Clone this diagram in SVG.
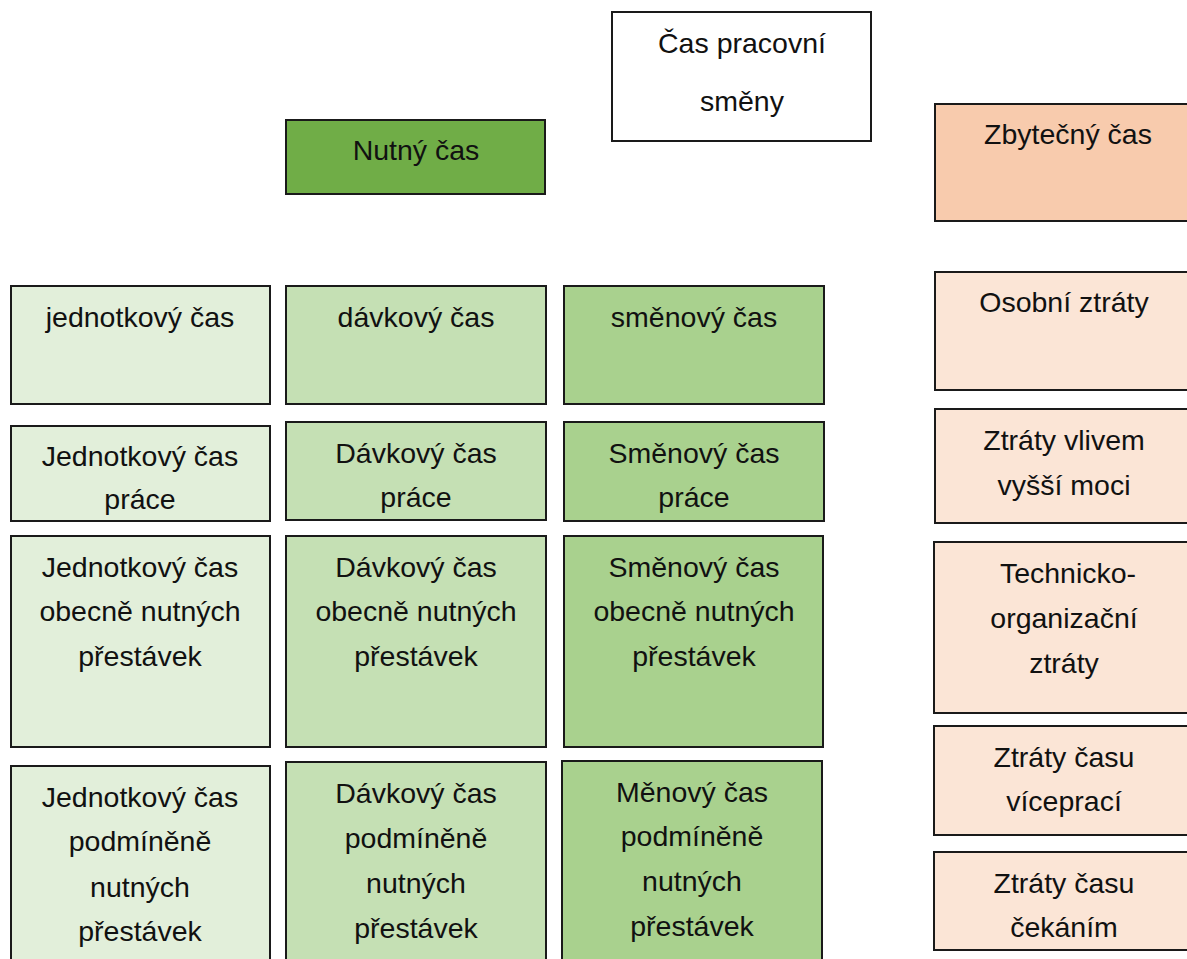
<svg xmlns="http://www.w3.org/2000/svg" width="1187" height="959" viewBox="0 0 1187 959">
<style>
rect{stroke:#1a1a1a;stroke-width:2}
text{font-family:"Liberation Sans",Arial,sans-serif;font-size:28.5px;fill:#111;text-anchor:middle}
.w{fill:#fff}.g0{fill:#70AD47}.g1{fill:#E2EFDA}.g2{fill:#C5E0B4}.g3{fill:#A9D18E}.o0{fill:#F8CBAD}.o1{fill:#FBE5D6}
</style>
<rect width="1187" height="959" fill="#fff" style="stroke:none"/>
<g id="connectors"></g>
<g id="cas-smeny"><rect class="w" x="612" y="12" width="259" height="129"/><text x="742" y="53">Čas pracovní</text><text x="742" y="111">směny</text></g>
<g id="nutny"><rect class="g0" x="286" y="120" width="259" height="74"/><text x="416" y="160">Nutný čas</text></g>
<g id="zbytecny"><rect class="o0" x="935" y="104" width="260" height="117"/><text x="1068" y="144">Zbytečný čas</text></g>

<g id="j1"><rect class="g1" x="11" y="286" width="259" height="118"/><text x="140" y="327">jednotkový čas</text></g>
<g id="d1"><rect class="g2" x="286" y="286" width="260" height="118"/><text x="416" y="327">dávkový čas</text></g>
<g id="s1"><rect class="g3" x="564" y="286" width="260" height="118"/><text x="694" y="327">směnový čas</text></g>

<g id="j2"><rect class="g1" x="11" y="426" width="259" height="95"/><text x="140" y="466">Jednotkový čas</text><text x="140" y="509">práce</text></g>
<g id="d2"><rect class="g2" x="286" y="422" width="260" height="98"/><text x="416" y="463">Dávkový čas</text><text x="416" y="507">práce</text></g>
<g id="s2"><rect class="g3" x="564" y="422" width="260" height="99"/><text x="694" y="463">Směnový čas</text><text x="694" y="507">práce</text></g>

<g id="j3"><rect class="g1" x="11" y="536" width="259" height="211"/><text x="140" y="577">Jednotkový čas</text><text x="140" y="621">obecně nutných</text><text x="140" y="666">přestávek</text></g>
<g id="d3"><rect class="g2" x="286" y="536" width="260" height="211"/><text x="416" y="577">Dávkový čas</text><text x="416" y="621">obecně nutných</text><text x="416" y="666">přestávek</text></g>
<g id="s3"><rect class="g3" x="564" y="536" width="259" height="211"/><text x="694" y="577">Směnový čas</text><text x="694" y="621">obecně nutných</text><text x="694" y="666">přestávek</text></g>

<g id="j4"><rect class="g1" x="11" y="766" width="259" height="200"/><text x="140" y="807">Jednotkový čas</text><text x="140" y="851">podmíněně</text><text x="140" y="897">nutných</text><text x="140" y="941">přestávek</text></g>
<g id="d4"><rect class="g2" x="286" y="762" width="260" height="204"/><text x="416" y="803">Dávkový čas</text><text x="416" y="848">podmíněně</text><text x="416" y="893">nutných</text><text x="416" y="938">přestávek</text></g>
<g id="s4"><rect class="g3" x="562" y="761" width="260" height="205"/><text x="692" y="802">Měnový čas</text><text x="692" y="846">podmíněně</text><text x="692" y="891">nutných</text><text x="692" y="936">přestávek</text></g>

<g id="osobni"><rect class="o1" x="935" y="272" width="260" height="118"/><text x="1064" y="312">Osobní ztráty</text></g>
<g id="vyssi"><rect class="o1" x="935" y="409" width="260" height="114"/><text x="1064" y="450">Ztráty vlivem</text><text x="1064" y="495">vyšší moci</text></g>
<g id="tech"><rect class="o1" x="934" y="542" width="260" height="171"/><text x="1068" y="583">Technicko-</text><text x="1064" y="628">organizační</text><text x="1064" y="673">ztráty</text></g>
<g id="vice"><rect class="o1" x="934" y="726" width="260" height="109"/><text x="1064" y="767">Ztráty času</text><text x="1064" y="811">víceprací</text></g>
<g id="cekani"><rect class="o1" x="934" y="852" width="260" height="98"/><text x="1064" y="893">Ztráty času</text><text x="1064" y="937">čekáním</text></g>
</svg>
